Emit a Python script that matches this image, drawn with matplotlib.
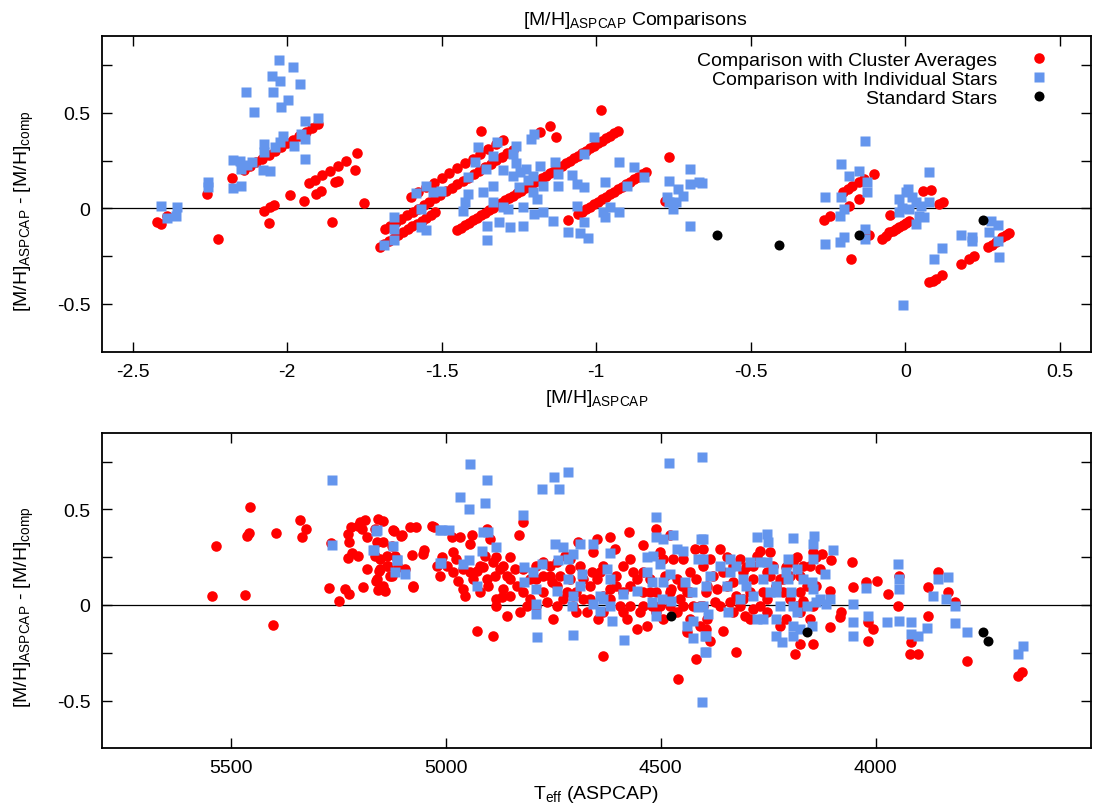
import numpy as np
import matplotlib
matplotlib.use("Agg")
import matplotlib.pyplot as plt
from matplotlib.ticker import FixedLocator, FuncFormatter

plt.rcParams['font.family'] = ['Liberation Sans', 'DejaVu Sans']
plt.rcParams['mathtext.fontset'] = 'custom'
plt.rcParams['mathtext.rm'] = 'Liberation Sans'
plt.rcParams['mathtext.it'] = 'Liberation Sans:italic'
plt.rcParams['axes.unicode_minus'] = False

# ---- top panel: delta [M/H] vs ASPCAP [M/H] ----
cluster_top = np.array([
    (-2.422, -0.07), (-2.408, -0.082), (-2.39, -0.04), (-2.223, -0.161), (-2.259, 0.075), (-2.178, 0.157),
    (-2.14, 0.20), (-2.12, 0.22), (-2.10, 0.24), (-2.08, 0.26), (-2.06, 0.28), (-2.04, 0.30), (-2.02, 0.32),
    (-2.00, 0.34), (-1.98, 0.36), (-1.96, 0.38), (-1.94, 0.40), (-1.92, 0.42), (-1.90, 0.44),
    (-2.075, -0.013), (-2.056, 0.005), (-2.043, 0.017), (-2.058, -0.079), (-1.991, 0.071), (-1.945, 0.037),
    (-1.93, 0.133), (-1.91, 0.150), (-1.886, 0.176), (-1.862, 0.197), (-1.837, 0.223), (-1.811, 0.249),
    (-1.905, 0.075), (-1.892, 0.089), (-1.846, 0.136), (-1.837, 0.145), (-1.781, 0.201),
    (-1.773, 0.29), (-1.752, 0.028), (-1.855, -0.073),
    # lower-left band
    (-1.70, -0.20), (-1.685, -0.185), (-1.67, -0.17), (-1.655, -0.155), (-1.64, -0.14), (-1.625, -0.125),
    (-1.61, -0.11), (-1.595, -0.095), (-1.58, -0.08), (-1.565, -0.065), (-1.55, -0.05), (-1.535, -0.035),
    (-1.52, -0.02),
    # middle band
    (-1.684, -0.109), (-1.666, -0.091), (-1.648, -0.073), (-1.63, -0.055), (-1.612, -0.037), (-1.594, -0.019),
    (-1.576, -0.001), (-1.558, 0.017), (-1.54, 0.035), (-1.522, 0.053), (-1.504, 0.071), (-1.486, 0.089),
    (-1.468, 0.107), (-1.45, 0.125), (-1.432, 0.143), (-1.414, 0.161), (-1.396, 0.179), (-1.378, 0.197),
    (-1.36, 0.215), (-1.342, 0.233), (-1.324, 0.251), (-1.306, 0.269), (-1.288, 0.287), (-1.27, 0.305),
    # upper band
    (-1.60, 0.06), (-1.575, 0.085), (-1.55, 0.11), (-1.525, 0.135), (-1.50, 0.16), (-1.475, 0.185),
    (-1.45, 0.21), (-1.425, 0.235), (-1.40, 0.26), (-1.375, 0.285), (-1.35, 0.31), (-1.325, 0.335), (-1.30, 0.36),
    (-1.374, 0.407), (-1.183, 0.398), (-1.149, 0.433), (-1.13, 0.372), (-0.986, 0.512),
    # long band
    (-1.45, -0.115), (-1.437, -0.102), (-1.424, -0.089), (-1.411, -0.076), (-1.398, -0.063), (-1.385, -0.05),
    (-1.372, -0.037), (-1.359, -0.024), (-1.346, -0.011), (-1.333, 0.002), (-1.32, 0.015), (-1.307, 0.028),
    (-1.294, 0.041), (-1.281, 0.054), (-1.268, 0.067), (-1.255, 0.08), (-1.242, 0.093), (-1.229, 0.106),
    (-1.216, 0.119), (-1.203, 0.132), (-1.19, 0.145), (-1.177, 0.158), (-1.164, 0.171), (-1.151, 0.184),
    (-1.138, 0.197), (-1.125, 0.21), (-1.112, 0.223), (-1.099, 0.236), (-1.086, 0.249), (-1.073, 0.262),
    (-1.06, 0.275), (-1.047, 0.288), (-1.034, 0.301), (-1.021, 0.314), (-1.008, 0.327), (-0.995, 0.34),
    (-0.982, 0.353), (-0.969, 0.366), (-0.956, 0.379), (-0.943, 0.392), (-0.93, 0.405),
    # band near -1
    (-1.092, -0.062), (-1.06, -0.03), (-1.047, -0.017), (-1.034, -0.004), (-1.021, 0.009), (-1.008, 0.022),
    (-0.995, 0.035), (-0.982, 0.048), (-0.969, 0.061), (-0.956, 0.074), (-0.943, 0.087), (-0.93, 0.10),
    (-0.917, 0.113), (-0.904, 0.126), (-0.891, 0.139), (-0.878, 0.152), (-0.865, 0.165), (-0.852, 0.178),
    (-0.84, 0.19), (-0.765, 0.267), (-0.779, 0.04),
    # solar metallicity clusters
    (-0.262, -0.06), (-0.244, -0.042), (-0.203, 0.084), (-0.187, 0.101), (-0.171, 0.118), (-0.149, 0.136),
    (-0.133, 0.154), (-0.101, 0.18), (-0.181, 0.014), (-0.149, 0.049), (-0.117, -0.138), (-0.176, -0.266),
    (-0.076, -0.161), (-0.064, -0.145), (-0.052, -0.126), (-0.041, -0.118), (-0.031, -0.108), (-0.02, -0.098),
    (-0.009, -0.088), (0.002, -0.076), (0.013, -0.065), (-0.05, -0.035),
    (0.056, 0.092), (0.083, 0.096), (0.11, 0.022), (0.121, 0.031),
    (0.077, -0.388), (0.088, -0.38), (0.099, -0.371), (0.12, -0.35), (0.179, -0.292), (0.206, -0.266),
    (0.223, -0.248), (0.266, -0.204), (0.28, -0.19), (0.293, -0.178), (0.314, -0.152), (0.325, -0.14),
    (0.336, -0.129),
])

stars_top = np.array([
    (-2.408, 0.01), (-2.39, -0.051), (-2.361, -0.042), (-2.356, 0.005), (-2.255, 0.136), (-2.255, 0.11),
    (-2.175, 0.253), (-2.175, 0.105), (-2.148, 0.118), (-2.148, 0.206), (-2.153, 0.249), (-2.134, 0.608),
    (-2.108, 0.503), (-2.074, 0.337), (-2.074, 0.293), (-2.056, 0.194), (-2.078, 0.202), (-2.115, 0.241),
    (-2.131, 0.227), (-2.026, 0.777), (-1.981, 0.742), (-2.049, 0.692), (-2.024, 0.664), (-2.046, 0.608),
    (-1.997, 0.568), (-2.02, 0.529), (-1.959, 0.651), (-2.024, 0.346), (-2.013, 0.38), (-2.04, 0.32),
    (-1.978, 0.328), (-1.954, 0.389), (-1.943, 0.363), (-1.943, 0.456), (-1.9, 0.472), (-1.943, 0.258),
    (-1.688, -0.191), (-1.655, -0.165), (-1.655, -0.108), (-1.655, -0.047), (-1.584, 0.08), (-1.568, -0.004),
    (-1.552, 0.118), (-1.568, -0.1), (-1.552, -0.114), (-1.528, 0.084), (-1.501, 0.089), (-1.431, -0.013),
    (-1.426, 0.031), (-1.415, 0.075), (-1.415, 0.162), (-1.393, 0.241), (-1.383, 0.32), (-1.32, 0.349),
    (-1.356, 0.206), (-1.334, 0.276), (-1.367, 0.084), (-1.334, 0.118), (-1.334, 0.031), (-1.354, -0.091),
    (-1.354, -0.166), (-1.313, -0.073), (-1.28, -0.1), (-1.302, 0.005), (-1.286, -0.004), (-1.27, 0.285),
    (-1.259, 0.328), (-1.25, 0.11), (-1.237, 0.005), (-1.237, -0.091), (-1.212, 0.363), (-1.202, 0.389),
    (-1.226, 0.206), (-1.205, 0.171), (-1.183, 0.223), (-1.205, 0.084), (-1.173, 0.118), (-1.2, -0.03),
    (-1.173, -0.021), (-1.14, -0.065), (-1.135, 0.244), (-1.124, 0.18), (-1.124, 0.118), (-1.079, 0.175),
    (-1.063, 0.127), (-1.038, 0.11), (-1.063, 0.014), (-1.092, -0.123), (-1.052, -0.13), (-1.027, -0.157),
    (-1.038, -0.073), (-1.04, 0.285), (-1.008, 0.372), (-0.971, 0.136), (-0.979, -0.021), (-0.973, -0.047),
    (-0.957, 0.005), (-0.925, -0.018), (-0.925, 0.241), (-0.879, 0.215), (-0.901, 0.115), (-0.844, 0.162),
    (-1.27, 0.17), (-1.245, 0.19), (-1.22, 0.15), (-1.26, 0.235), (-1.30, 0.20), (-1.19, 0.05),
    (-0.763, 0.145), (-0.763, 0.031), (-0.752, -0.004), (-0.736, 0.101), (-0.698, 0.206), (-0.698, 0.127),
    (-0.698, -0.091), (-0.666, 0.136), (-0.772, 0.058), (-0.742, 0.031), (-0.72, 0.066), (-0.657, 0.133),
    (-0.131, 0.351), (-0.208, 0.232), (-0.181, 0.171), (-0.149, 0.197), (-0.124, 0.136), (-0.124, 0.084),
    (-0.26, 0.058), (-0.208, 0.058), (-0.198, -0.004), (-0.213, -0.039), (-0.26, -0.187), (-0.213, -0.178),
    (-0.198, -0.152), (-0.131, -0.108), (-0.131, -0.161), (-0.006, -0.507), (0.077, 0.189), (0.077, 0.031),
    (-0.019, 0.049), (0.003, 0.084), (0.034, 0.031), (0.013, -0.004), (0.045, -0.039), (0.061, -0.047),
    (0.034, -0.082), (-0.019, -0.021), (0.007, 0.101), (-0.01, 0.0), (0.02, 0.06), (0.05, 0.01),
    (0.179, -0.14), (0.217, -0.152), (0.217, -0.17), (0.12, -0.208), (0.093, -0.266),
    (0.277, -0.065), (0.301, -0.088), (0.271, -0.126), (0.301, -0.17), (0.303, -0.257),
])

# standard stars (same stars in both panels)
std_mh = [-0.61, -0.41, -0.15, 0.25]
std_teff = [4160, 3740, 3750, 4475]
std_dmh = [-0.14, -0.19, -0.14, -0.06]

# ---- bottom panel: delta [M/H] vs Teff ----
cluster_bot = np.array([
    (5454, 0.515), (5535, 0.311), (5463, 0.363), (5458, 0.377), (5395, 0.376), (5339, 0.446), (5325, 0.398),
    (5334, 0.355), (5543, 0.046), (5467, 0.052), (5401, -0.106), (5272, 0.089), (5248, 0.023), (5234, 0.084),
    (5226, 0.058), (5192, 0.093), (5267, 0.325), (5227, 0.372), (5224, 0.332), (5221, 0.407), (5203, 0.416),
    (5195, 0.398), (5188, 0.446), (5200, 0.433), (5227, 0.245), (5217, 0.271), (5203, 0.258), (5184, 0.355),
    (5182, 0.189), (5157, 0.451), (5145, 0.442), (5165, 0.258), (5155, 0.18), (5161, 0.127), (5157, 0.08),
    (5141, 0.075), (5130, 0.154), (5145, 0.329), (5137, 0.258), (5134, 0.206), (5120, 0.386), (5103, 0.36),
    (5095, 0.189), (5076, 0.096), (5079, 0.264), (5051, 0.29), (5052, 0.267), (5083, 0.407), (5068, 0.407),
    (5027, 0.41), (5014, 0.154),
    (5164, 0.398), (5160, 0.329), (5153, 0.241), (5137, 0.206), (5153, 0.189), (5160, 0.136), (5145, 0.101),
    (5122, 0.39), (5102, 0.364), (5126, 0.311), (5118, 0.259), (5126, 0.154), (5110, 0.198), (5075, 0.101),
    (5033, 0.412), (5009, 0.25), (4986, 0.355), (4967, 0.355), (4982, 0.171), (4971, 0.128), (4959, 0.084),
    (4955, 0.049), (4944, 0.32), (4940, 0.364), (4944, 0.171), (4936, 0.136), (4928, 0.18), (4920, 0.206),
    (4909, 0.259), (4905, 0.398), (4897, 0.346), (4913, 0.198), (4901, 0.101), (4889, 0.224), (4885, 0.154),
    (4882, 0.25), (4882, 0.032), (4882, -0.003), (4870, 0.04), (4858, -0.056), (4866, 0.084), (4858, 0.154),
    (4850, 0.25), (4839, 0.189), (4827, -0.038), (4829, 0.364), (4821, 0.433), (4835, 0.101), (4820, 0.067),
    (4804, 0.136), (4789, 0.206), (4773, 0.067), (4765, 0.014), (4754, 0.119), (4750, -0.073), (4742, 0.224),
    (4734, 0.154), (4723, 0.259), (4719, 0.067), (4711, 0.136), (4703, -0.003), (4692, 0.329), (4688, 0.206),
    (4672, -0.038), (4665, 0.101), (4661, 0.171), (4657, 0.276), (4649, 0.346), (4641, 0.171), (4645, -0.073),
    (4634, -0.265), (4634, 0.049), (4618, 0.355), (4606, 0.294), (4603, 0.154), (4595, -0.003), (4587, 0.206),
    (4579, -0.073), (4573, 0.381), (4572, 0.101), (4564, 0.171), (4556, -0.126), (4548, -0.038), (4542, 0.315),
    (4541, 0.067), (4533, -0.108), (4525, 0.136), (4521, -0.003), (4510, 0.398), (4502, 0.276), (4494, -0.073),
    (4490, 0.154), (4486, 0.032), (4479, 0.364), (4475, 0.084), (4471, 0.241), (4463, -0.038), (4459, -0.388),
    (4451, 0.101), (4448, 0.241), (4440, -0.143), (4432, 0.171), (4424, -0.003), (4420, 0.294), (4417, -0.283),
    (4409, -0.108), (4401, 0.206), (4393, -0.073), (4393, 0.101), (4928, -0.134), (4889, -0.161),
    (4789, -0.003), (4773, 0.154), (4742, 0.101), (4696, 0.067), (4680, 0.032), (4634, -0.038), (4618, 0.084),
    (4587, 0.067), (4572, -0.003), (4541, -0.003), (4510, 0.067), (4502, -0.003), (4479, -0.003), (4455, 0.032),
    (4440, 0.067), (4432, -0.073), (4874, 0.189), (4850, 0.049), (4804, 0.032), (4758, 0.206), (4711, 0.241),
    (4920, 0.067), (4905, 0.136), (4866, 0.206), (4850, 0.136), (4820, 0.189), (4812, -0.003), (4789, 0.136),
    (4773, 0.224), (4758, 0.154), (4742, -0.003), (4727, 0.032), (4711, 0.189), (4696, -0.038), (4680, 0.136),
    (4665, 0.032), (4649, 0.136), (4634, 0.206), (4618, 0.032), (4603, 0.101), (4587, -0.038), (4572, 0.241),
    (4556, 0.136), (4541, 0.171), (4525, 0.067), (4510, -0.038), (4494, 0.241), (4479, 0.067), (4463, 0.136),
    (4448, -0.003), (4432, 0.067), (4417, 0.136), (4409, -0.003), (4975, 0.241), (4959, 0.189), (4998, 0.206),
    (4982, 0.276), (5021, 0.206),
    (4401, 0.294), (4386, 0.241), (4363, 0.294), (4347, 0.25), (4332, 0.206), (4316, 0.241), (4301, 0.198),
    (4285, 0.136), (4277, 0.259), (4270, 0.285), (4254, 0.171), (4246, 0.276), (4239, 0.206), (4223, 0.136),
    (4208, 0.198), (4192, 0.224), (4184, 0.25), (4177, 0.154), (4169, 0.206), (4153, 0.206), (4146, 0.276),
    (4138, 0.25), (4126, 0.267), (4103, 0.233), (4056, 0.224), (4053, 0.093), (4022, 0.119), (3998, 0.128),
    (3971, 0.058), (3948, -0.003), (4107, 0.075), (4394, 0.067), (4370, 0.084), (4347, 0.101), (4324, 0.049),
    (4308, 0.032), (4293, 0.067), (4270, -0.003), (4254, 0.032), (4231, 0.101), (4215, 0.067), (4200, 0.032),
    (4184, -0.003), (4169, 0.023), (4146, -0.003), (4401, -0.003), (4374, 0.014), (4339, 0.014), (4316, -0.003),
    (4305, -0.056), (4285, -0.021), (4254, -0.038), (4223, -0.108), (4153, -0.073), (4107, -0.117),
    (4084, -0.065), (4080, -0.038), (4018, -0.091), (4006, -0.126), (4018, -0.187), (4146, -0.204),
    (4177, -0.204), (4188, -0.257), (4324, -0.248), (4356, -0.138), (4394, -0.126), (4386, -0.187),
    (3946, 0.154), (3917, -0.196), (3921, -0.257), (3901, -0.257), (3878, 0.093), (3878, -0.059),
    (3855, 0.171), (3832, 0.067), (3816, 0.014), (3789, -0.292), (3669, -0.374), (3659, -0.353),
    (4378, 0.154), (4355, 0.171), (4332, 0.119), (4308, 0.171), (4285, 0.206), (4262, 0.067), (4246, 0.154),
    (4215, 0.136), (4200, 0.154), (4177, 0.067), (4161, 0.101), (4138, 0.101), (4130, 0.189), (4363, -0.003),
    (4332, -0.038), (4293, -0.073), (4208, -0.073), (4177, -0.038),
])

stars_bot = np.array([
    (5265, 0.655), (5265, 0.314), (5162, 0.389), (5166, 0.288), (5122, 0.311), (5113, 0.236), (5118, 0.171),
    (5095, 0.162), (5014, 0.393), (5014, 0.219),
    (4944, 0.739), (4903, 0.655), (4967, 0.564), (4947, 0.503), (4909, 0.535), (4775, 0.608), (4748, 0.669),
    (4736, 0.608), (4715, 0.695), (4820, 0.472), (4480, 0.744), (4511, 0.46), (5160, 0.393), (5168, 0.288),
    (5114, 0.233), (5009, 0.395), (4992, 0.395), (5011, 0.22), (4959, 0.212), (4947, 0.238), (4928, 0.101),
    (4916, 0.285), (4913, 0.381), (4901, 0.381), (4883, 0.302), (4818, 0.198), (4818, 0.119), (4796, 0.171),
    (4789, 0.084), (4789, 0.005), (4789, -0.047), (4775, 0.212), (4787, -0.169), (4746, 0.32), (4727, 0.302),
    (4715, 0.241), (4703, 0.267), (4688, 0.32), (4657, 0.32), (4618, 0.273), (4738, 0.233), (4742, 0.075),
    (4715, 0.136), (4684, 0.163), (4707, -0.003), (4703, 0.049), (4688, 0.101), (4705, -0.157), (4657, 0.005),
    (4641, -0.03), (4634, 0.032), (4626, 0.189), (4618, 0.136), (4613, -0.082), (4587, 0.058), (4585, -0.183),
    (4556, 0.075), (4533, 0.25), (4533, 0.171), (4517, 0.259), (4521, 0.119), (4502, 0.215), (4494, 0.119),
    (4521, 0.014), (4496, 0.032), (4475, 0.023), (4511, 0.355), (4494, 0.346), (4471, 0.364), (4463, 0.294),
    (4448, 0.285), (4413, 0.241), (4406, 0.346), (4479, 0.163), (4444, 0.119), (4428, 0.067), (4413, -0.012),
    (4424, -0.082), (4440, -0.108), (4424, -0.175), (4397, -0.161), (4397, -0.248), (4510, -0.056),
    (4618, -0.003), (4641, 0.049),
    (4403, 0.774), (4405, -0.506), (4277, 0.355), (4254, 0.372), (4250, 0.329), (4192, 0.35), (4143, 0.36),
    (4146, 0.32), (4099, 0.288), (4204, 0.241), (4146, 0.241), (3948, 0.215), (3946, 0.136), (3946, 0.084),
    (3832, 0.145), (3855, 0.136), (3867, 0.049), (3836, 0.032), (3816, -0.003), (4022, 0.088), (4053, 0.005),
    (4053, -0.091), (4053, -0.161), (4018, -0.059), (3975, -0.091), (3946, -0.082), (3917, -0.091),
    (3917, -0.152), (3901, -0.161), (3882, -0.122), (3816, -0.096), (3789, -0.143), (3669, -0.257),
    (3657, -0.213), (4401, 0.346), (4401, 0.241), (4386, 0.154), (4394, 0.101), (4401, -0.003), (4390, -0.047),
    (4343, -0.038), (4394, -0.161), (4394, -0.248), (4363, 0.206), (4339, 0.241), (4339, 0.171), (4347, 0.101),
    (4316, 0.032), (4308, 0.136), (4293, 0.224), (4285, 0.049), (4270, 0.224), (4262, 0.136), (4277, -0.073),
    (4262, -0.073), (4239, 0.189), (4231, 0.101), (4231, 0.067), (4223, -0.003), (4231, -0.073), (4231, -0.161),
    (4219, -0.196), (4208, 0.171), (4204, 0.136), (4196, 0.067), (4192, -0.003), (4184, 0.189), (4192, -0.108),
    (4192, -0.161), (4177, -0.126), (4184, -0.038), (4149, 0.119), (4146, 0.084), (4138, 0.014), (4118, 0.163),
    (4115, 0.005), (4107, 0.032), (4149, -0.108),
    (4324, 0.206), (4301, 0.101), (4254, 0.224), (4246, 0.067), (4169, 0.136), (4161, -0.003), (4130, 0.032),
])

RED = '#ff0000'
BLUE = '#6495ed'
FS = 14

fig = plt.figure(figsize=(10.93, 8.12), dpi=100)
ax1 = fig.add_axes([0.093, 0.5657, 0.905, 0.3883])
ax2 = fig.add_axes([0.093, 0.0772, 0.905, 0.3883])


def style_axis(ax):
    ax.axhline(0, color='black', lw=0.9, zorder=1)
    ax.set_ylim(-0.75, 0.9)
    ax.yaxis.set_major_locator(FixedLocator([-0.5, -0.25, 0, 0.25, 0.5, 0.75]))
    ax.yaxis.set_major_formatter(FuncFormatter(
        lambda v, p: '%g' % v if abs(v * 2 - round(v * 2)) < 1e-6 else ''))
    ax.tick_params(direction='in', length=7, width=1.0, top=True, right=True,
                   labelsize=FS, pad=8)
    for s in ax.spines.values():
        s.set_linewidth(1.3)
    ax.set_ylabel(r'[M/H]$_{\mathrm{ASPCAP}}$ - [M/H]$_{\mathrm{comp}}$', fontsize=FS)
    ax.yaxis.set_label_coords(-0.066, 0.45)


# top panel
ax1.plot(cluster_top[:, 0], cluster_top[:, 1], 'o', color=RED, ms=7.6, mec='none',
         label='Comparison with Cluster Averages', zorder=2)
ax1.plot(stars_top[:, 0], stars_top[:, 1], 's', color=BLUE, ms=7.6, mec='none',
         label='Comparison with Individual Stars', zorder=3)
ax1.plot(std_mh, std_dmh, 'o', color='black', ms=7.2, mec='none',
         label='Standard Stars', zorder=4)
ax1.set_xlim(-2.6, 0.6)
ax1.xaxis.set_major_locator(FixedLocator([-2.5, -2, -1.5, -1, -0.5, 0, 0.5]))
ax1.xaxis.set_major_formatter(FuncFormatter(lambda v, p: '%g' % v))
style_axis(ax1)
ax1.set_xlabel(r'[M/H]$_{\mathrm{ASPCAP}}$', fontsize=FS, labelpad=5)
ax1.set_title(r'[M/H]$_{\mathrm{ASPCAP}}$ Comparisons', fontsize=FS, pad=9, x=0.539)
ax1.legend(loc='upper right', bbox_to_anchor=(0.975, 0.978), markerfirst=False,
           frameon=False, fontsize=FS, handletextpad=1.15, labelspacing=0.08,
           borderpad=0.4, borderaxespad=0, handlelength=2.0)

# bottom panel
ax2.plot(cluster_bot[:, 0], cluster_bot[:, 1], 'o', color=RED, ms=7.6, mec='none', zorder=2)
ax2.plot(stars_bot[:, 0], stars_bot[:, 1], 's', color=BLUE, ms=7.6, mec='none', zorder=3)
ax2.plot(std_teff, std_dmh, 'o', color='black', ms=7.2, mec='none', zorder=4)
ax2.set_xlim(5800, 3500)
ax2.xaxis.set_major_locator(FixedLocator([5500, 5000, 4500, 4000]))
ax2.xaxis.set_major_formatter(FuncFormatter(lambda v, p: '%d' % v))
style_axis(ax2)
ax2.set_xlabel(r'T$_{\mathrm{eff}}$ (ASPCAP)', fontsize=FS, labelpad=5)

fig.savefig('out.png', dpi=100)
